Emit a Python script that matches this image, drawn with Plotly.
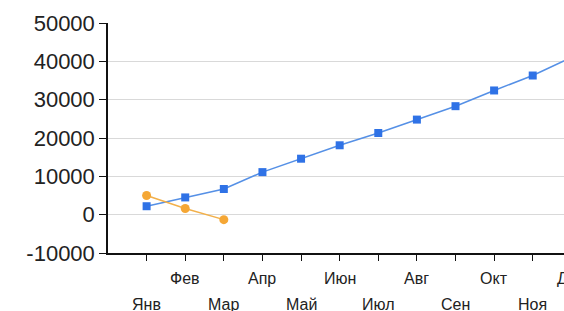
import plotly.graph_objects as go

months = ["Янв", "Фев", "Мар", "Апр", "Май", "Июн", "Июл", "Авг", "Сен", "Окт", "Ноя", "Дек"]
series_blue = [2200, 4500, 6700, 11100, 14600, 18100, 21300, 24800, 28300, 32400, 36300, 41000]
series_orange = [5000, 1600, -1300]
y_ticks = [-10000, 0, 10000, 20000, 30000, 40000, 50000]

idx = list(range(len(months)))
x_range = [-1, 10.81]

fig = go.Figure()
fig.add_trace(go.Scatter(
    x=idx, y=series_blue, mode="lines+markers",
    line=dict(color="#5590e6", width=1.5),
    marker=dict(symbol="square", size=8, color="#2f72e6"),
    showlegend=False,
))
fig.add_trace(go.Scatter(
    x=idx[:len(series_orange)], y=series_orange, mode="lines+markers",
    line=dict(color="#f2b04a", width=1.5),
    marker=dict(symbol="circle", size=9, color="#f5a735"),
    showlegend=False,
))

annotations = []
span = x_range[1] - x_range[0]
for i, m in enumerate(months):
    upper = (i % 2 == 1)
    annotations.append(dict(
        x=(i - x_range[0]) / span, y=0, xref="paper", yref="paper",
        text=m, showarrow=False, xanchor="center", yanchor="middle",
        yshift=-25 if upper else -51,
        font=dict(family="Arial, Liberation Sans, sans-serif", size=16, color="#222222"),
    ))

fig.update_layout(
    width=564, height=311,
    margin=dict(l=108, r=0, t=23, b=57.5),
    paper_bgcolor="white", plot_bgcolor="white",
    annotations=annotations,
    xaxis=dict(
        range=x_range, tickvals=idx, ticktext=[""] * len(idx),
        showgrid=False, zeroline=False,
        showline=True, linecolor="#111111", linewidth=1.5,
        ticks="outside", ticklen=6, tickwidth=1.2, tickcolor="#111111",
    ),
    yaxis=dict(
        range=[-10000, 50000], tickvals=y_ticks, ticktext=[str(v) for v in y_ticks],
        showgrid=True, gridcolor="#d9d9d9", gridwidth=1,
        zeroline=False, automargin=False,
        showline=True, linecolor="#111111", linewidth=1.5,
        ticks="outside", ticklen=7, tickwidth=1.2, tickcolor="#111111",
        tickfont=dict(family="Arial, Liberation Sans, sans-serif", size=22, color="#222222"),
    ),
)

fig.write_html(
    "out.html",
    config={"displayModeBar": False},
    post_script="document.body.style.margin='0';document.body.style.overflow='hidden';",
)
